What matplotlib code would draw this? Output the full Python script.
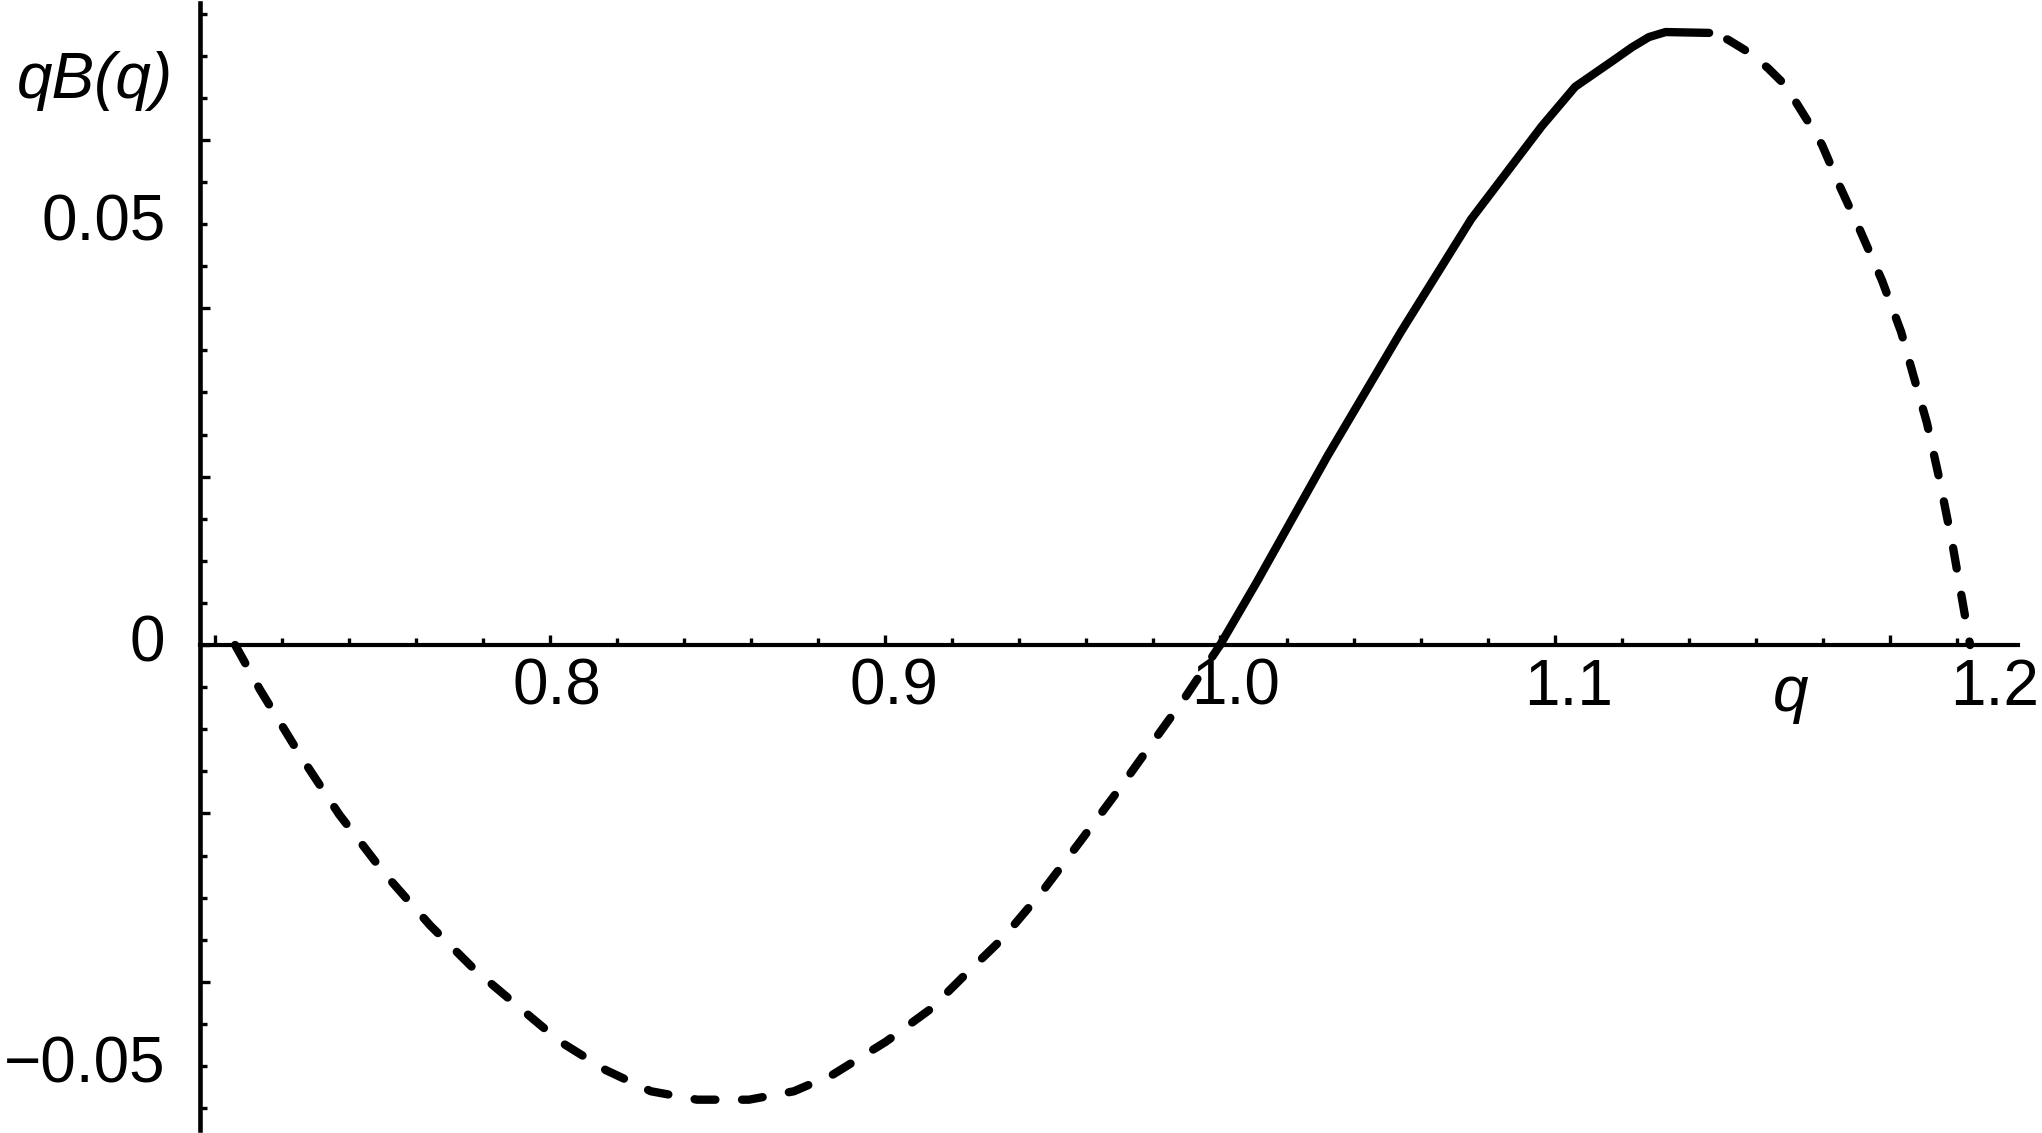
# Import required libraries
import numpy as np
import matplotlib
matplotlib.use('Agg')
import matplotlib.pyplot as plt
from matplotlib.ticker import MultipleLocator

plt.rcParams['font.family'] = ['Liberation Sans', 'DejaVu Sans']

# Curve data: left dashed branch
q_left = [0.7060, 0.7134, 0.7254, 0.7370, 0.7505, 0.7642, 0.7776, 0.7913, 0.8030,
          0.8167, 0.8301, 0.8439, 0.8594, 0.8728, 0.8845, 0.9003, 0.9137, 0.9233,
          0.9352, 0.9469, 0.9585, 0.9701, 0.9800, 0.9896, 1.0]
qb_left = [0.0, -0.0053, -0.0131, -0.0201, -0.0271, -0.0333, -0.0386, -0.0432, -0.0471,
           -0.0505, -0.0530, -0.0540, -0.0540, -0.0530, -0.0510, -0.0471, -0.0432, -0.0394,
           -0.0348, -0.0293, -0.0232, -0.0170, -0.0115, -0.0062, 0.0]

# Solid branch
q_mid = [1.0, 1.011, 1.032, 1.054, 1.075, 1.096, 1.106, 1.118, 1.123, 1.128, 1.133, 1.146]
qb_mid = [0.0, 0.0075, 0.0224, 0.0372, 0.0506, 0.0616, 0.0663, 0.0696, 0.0710, 0.0722,
          0.0728, 0.0727]

# Right dashed branch
q_right = [1.146, 1.1516, 1.1582, 1.1636, 1.1687, 1.1725, 1.1761, 1.1797, 1.1851,
           1.1910, 1.1976, 1.2033, 1.2072, 1.2110, 1.2149, 1.2188, 1.2239]
qb_right = [0.0727, 0.0719, 0.0703, 0.0685, 0.0665, 0.0641, 0.0618, 0.0594, 0.0544,
            0.0493, 0.0433, 0.0372, 0.0317, 0.0264, 0.0194, 0.0116, 0.0]

# Tick labels
x_label_vals = [0.8, 0.9, 1.0, 1.1, 1.2]
x_label_text = ['0.8', '0.9', '1.0', '1.1', '1.2']
y_label_vals = [0.05, 0.0, -0.05]
y_label_text = ['0.05', '0', '\u22120.05']

# Axis limits
xmin, xmax = 0.6955, 1.2382
ymin, ymax = -0.0576, 0.07625

# Create the plot
fig = plt.figure(figsize=(20.42, 11.33), dpi=100)
ax = fig.add_axes([200 / 2042, 1 - 1130 / 1133, 1818 / 2042, 1127 / 1133])
ax.set_xlim(xmin, xmax)
ax.set_ylim(ymin, ymax)

lw = 6
ax.plot(q_left, qb_left, color='black', lw=lw, linestyle=(0, (2.5, 3.2)),
        dash_capstyle='round', dash_joinstyle='round')
ax.plot(q_mid, qb_mid, color='black', lw=lw, solid_capstyle='round',
        solid_joinstyle='round')
# start the right branch with a gap, as in the original
ax.plot(q_right, qb_right, color='black', lw=lw, linestyle=(3.4, (2.5, 3.2)),
        dash_capstyle='round', dash_joinstyle='round')

# Axes through the origin style
for side in ['top', 'right']:
    ax.spines[side].set_visible(False)
ax.spines['bottom'].set_position(('data', 0))
ax.spines['left'].set_linewidth(3.3)
ax.spines['bottom'].set_linewidth(3.0)

ax.xaxis.set_major_locator(MultipleLocator(0.1))
ax.xaxis.set_minor_locator(MultipleLocator(0.02))
ax.yaxis.set_major_locator(MultipleLocator(0.02))
ax.yaxis.set_minor_locator(MultipleLocator(0.005))
ax.tick_params(which='major', direction='in', length=7.5, width=2.4,
               labelbottom=False, labelleft=False)
ax.tick_params(which='minor', direction='in', length=5, width=2.4)

# Tick labels as text
x_offsets = [5, 6.5, 11, 10, 75]
for v, t, dx in zip(x_label_vals, x_label_text, x_offsets):
    ax.annotate(t, xy=(v, 0), xytext=(dx, -43), textcoords='offset points',
                ha='center', va='baseline', fontsize=46)
for v, t in zip(y_label_vals, y_label_text):
    ax.annotate(t, xy=(xmin, v), xytext=(-25, -12), textcoords='offset points',
                ha='right', va='baseline', fontsize=46, annotation_clip=False)

# Axis labels
fig.text(173 / 2042, 1 - 98 / 1133, 'qB(q)', ha='right', va='baseline',
         fontsize=46, style='italic')
fig.text(1791 / 2042, 1 - 711 / 1133, 'q', ha='center', va='baseline',
         fontsize=46, style='italic')

fig.savefig('out.png', dpi=100)
